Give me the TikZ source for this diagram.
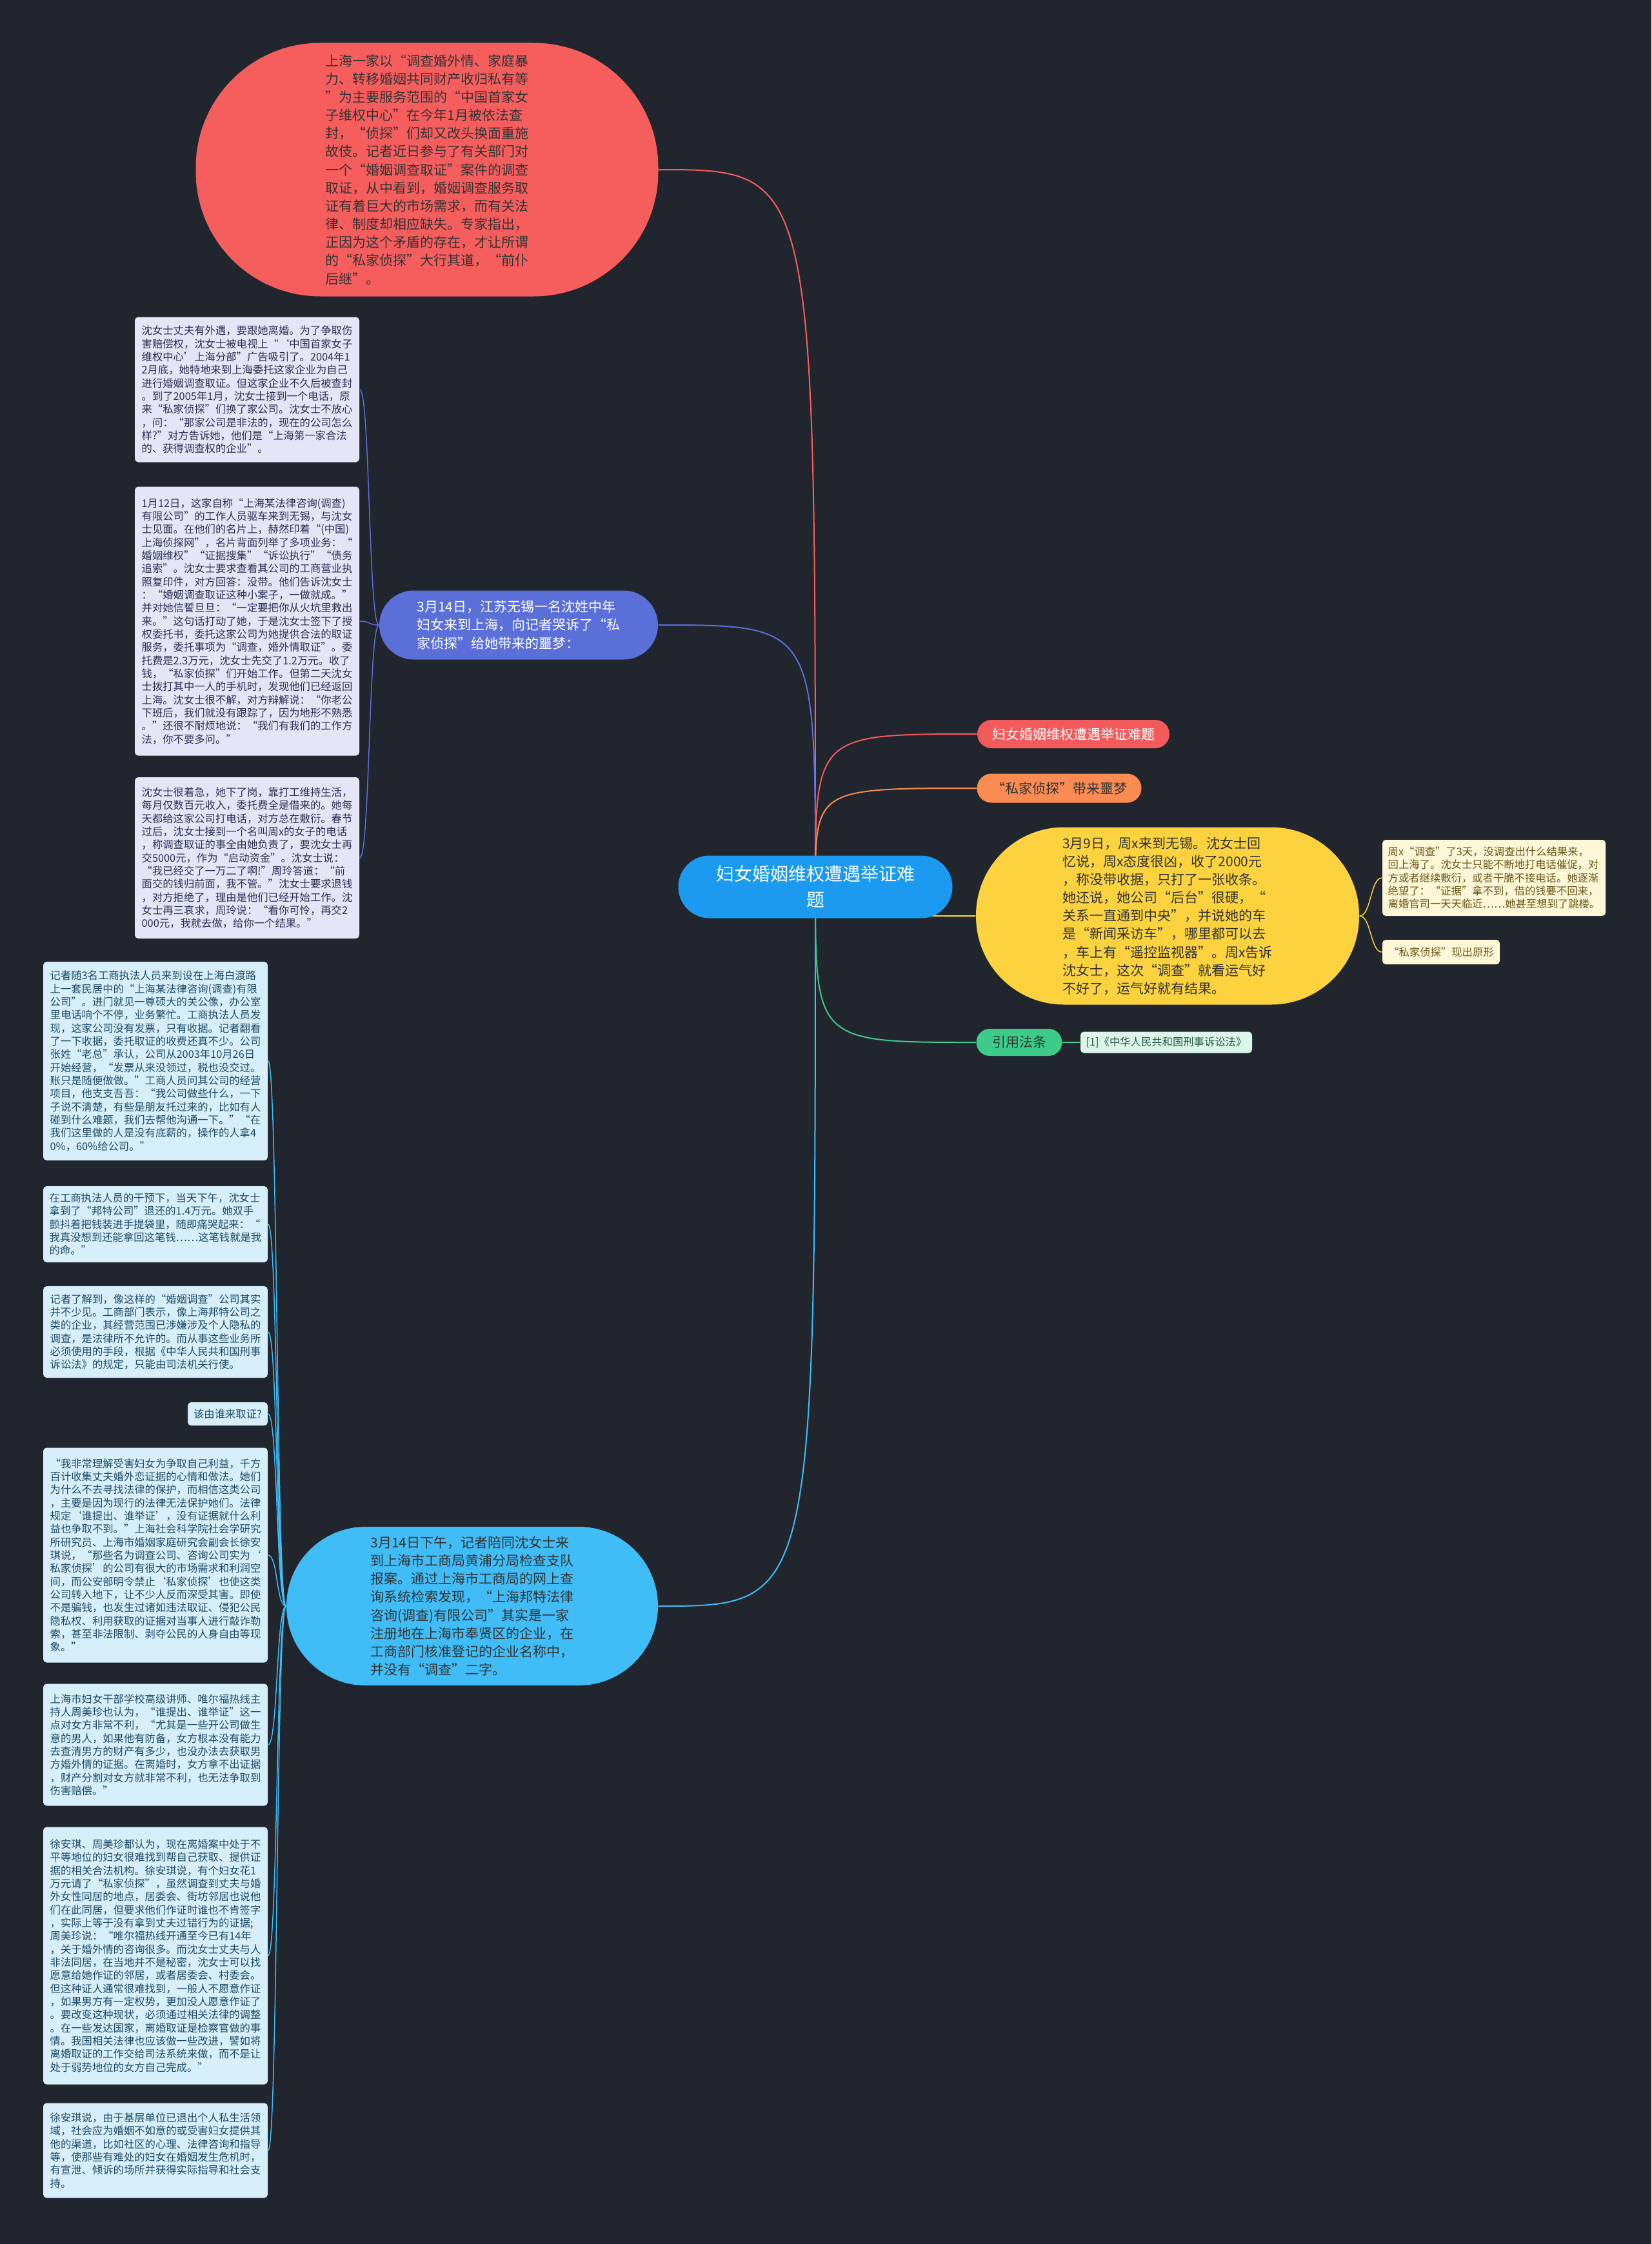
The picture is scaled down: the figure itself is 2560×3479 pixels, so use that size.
\documentclass[tikz,border=0pt]{standalone}
\usepackage{fontspec}
\setmainfont{Noto Sans CJK SC}
\usepackage{tikz}
\definecolor{bgdark}{HTML}{21252E}
\definecolor{rootblue}{HTML}{1C9AEF}
\definecolor{redfill}{HTML}{F65E5E}
\definecolor{pinkfill}{HTML}{F35A5C}
\definecolor{orangefill}{HTML}{FA8B52}
\definecolor{yellowfill}{HTML}{FCD33F}
\definecolor{greenfill}{HTML}{3CCB88}
\definecolor{perifill}{HTML}{5B6FD8}
\definecolor{skyfill}{HTML}{40BDF7}
\definecolor{lavbox}{HTML}{E4E6F7}
\definecolor{lavtext}{HTML}{2B2F55}
\definecolor{skybox}{HTML}{D6EFFB}
\definecolor{skytext}{HTML}{1E4A66}
\definecolor{creambox}{HTML}{FEF7D8}
\definecolor{creamtext}{HTML}{6A5616}
\definecolor{mintbox}{HTML}{DDF6EA}
\definecolor{minttext}{HTML}{245A40}
\definecolor{darktext}{HTML}{333333}
\pgfdeclarelayer{bg}
\pgfdeclarelayer{links}
\pgfsetlayers{bg,links,main}
\tikzset{
  big/.style={font=\fontsize{6.3}{8.45}\selectfont, align=left, inner sep=0pt},
  note/.style={font=\fontsize{4.9}{6.1}\selectfont, align=left, inner sep=0pt, rounded corners=1.6pt, minimum width=104.4pt},
  lav/.style={note, fill=lavbox, text=lavtext},
  sky/.style={note, fill=skybox, text=skytext},
  tag/.style={font=\fontsize{6.3}{8}\selectfont, inner sep=0pt},
  link/.style={line width=0.6pt},
  sublink/.style={line width=0.45pt},
}
\begin{document}
\begin{tikzpicture}[x=0.3pt,y=-0.3pt]
\useasboundingbox (0,0) rectangle (2560,3479);
\begin{pgfonlayer}{bg}
  \fill[bgdark] (0,0) rectangle (2560,3479);
\end{pgfonlayer}

\node[fill=rootblue, text=white, rounded corners=14.5pt, minimum width=127.5pt, minimum height=29.1pt,
  font=\fontsize{8.4}{12}\selectfont, align=center, inner sep=0pt] (root) at (1264,1375) {妇女婚姻维权遭遇举证难\\题};

\node[big, fill=redfill, text=darktext, rounded corners=58pt, minimum width=215.1pt, minimum height=117.9pt] (intro) at (662,263)
  {上海一家以“调查婚外情、家庭暴\\力、转移婚姻共同财产收归私有等\\”为主要服务范围的“中国首家女\\子维权中心”在今年1月被依法查\\封，“侦探”们却又改头换面重施\\故伎。记者近日参与了有关部门对\\一个“婚姻调查取证”案件的调查\\取证，从中看到，婚姻调查服务取\\证有着巨大的市场需求，而有关法\\律、制度却相应缺失。专家指出，\\正因为这个矛盾的存在，才让所谓\\的“私家侦探”大行其道，“前仆\\后继”。};

\node[big, fill=perifill, text=white, rounded corners=16pt, minimum width=129.6pt, minimum height=32.1pt] (mar14) at (804,969)
  {3月14日，江苏无锡一名沈姓中年\\妇女来到上海，向记者哭诉了“私\\家侦探”给她带来的噩梦：};

\node[lav, minimum height=67.5pt] (story1) at (383,604)
  {沈女士丈夫有外遇，要跟她离婚。为了争取伤\\害赔偿权，沈女士被电视上“‘中国首家女子\\维权中心’上海分部”广告吸引了。2004年1\\2月底，她特地来到上海委托这家企业为自己\\进行婚姻调查取证。但这家企业不久后被查封\\。到了2005年1月，沈女士接到一个电话，原\\来“私家侦探”们换了家公司。沈女士不放心\\，问：“那家公司是非法的，现在的公司怎么\\样?”对方告诉她，他们是“上海第一家合法\\的、获得调查权的企业”。};
\node[lav, minimum height=125.1pt] (story2) at (383,963)
  {1月12日，这家自称“上海某法律咨询(调查)\\有限公司”的工作人员驱车来到无锡，与沈女\\士见面。在他们的名片上，赫然印着“(中国)\\上海侦探网”，名片背面列举了多项业务：“\\婚姻维权”“证据搜集”“诉讼执行”“债务\\追索”。沈女士要求查看其公司的工商营业执\\照复印件，对方回答：没带。他们告诉沈女士\\：“婚姻调查取证这种小案子，一做就成。”\\并对她信誓旦旦：“一定要把你从火坑里救出\\来。”这句话打动了她，于是沈女士签下了授\\权委托书，委托这家公司为她提供合法的取证\\服务，委托事项为“调查，婚外情取证”。委\\托费是2.3万元，沈女士先交了1.2万元。收了\\钱，“私家侦探”们开始工作。但第二天沈女\\士拨打其中一人的手机时，发现他们已经返回\\上海。沈女士很不解，对方辩解说：“你老公\\下班后，我们就没有跟踪了，因为地形不熟悉\\。”还很不耐烦地说：“我们有我们的工作方\\法，你不要多问。”};
\node[lav, minimum height=75pt] (story3) at (383,1330)
  {沈女士很着急，她下了岗，靠打工维持生活，\\每月仅数百元收入，委托费全是借来的。她每\\天都给这家公司打电话，对方总在敷衍。春节\\过后，沈女士接到一个名叫周x的女子的电话\\，称调查取证的事全由她负责了，要沈女士再\\交5000元，作为“启动资金”。沈女士说：\\“我已经交了一万二了啊!”周玲答道：“前\\面交的钱归前面，我不管。”沈女士要求退钱\\，对方拒绝了，理由是他们已经开始工作。沈\\女士再三哀求，周玲说：“看你可怜，再交2\\000元，我就去做，给你一个结果。”};

\node[tag, fill=pinkfill, text=white, rounded corners=6.6pt, minimum width=89.4pt, minimum height=13.2pt] (title) at (1664,1138) {妇女婚姻维权遭遇举证难题};
\node[tag, fill=orangefill, text=darktext, rounded corners=6.7pt, minimum width=76.5pt, minimum height=13.5pt] (nightmare) at (1642,1222) {“私家侦探”带来噩梦};

\node[big, fill=yellowfill, text=darktext, rounded corners=41pt, minimum width=178.2pt, minimum height=82.5pt] (mar9) at (1810,1420)
  {3月9日，周x来到无锡。沈女士回\\忆说，周x态度很凶，收了2000元\\，称没带收据，只打了一张收条。\\她还说，她公司“后台”很硬，“\\关系一直通到中央”，并说她的车\\是“新闻采访车”，哪里都可以去\\，车上有“遥控监视器”。周x告诉\\沈女士，这次“调查”就看运气好\\不好了，运气好就有结果。};
\node[note, fill=creambox, text=creamtext, minimum width=103.8pt, minimum height=35.4pt] (despair) at (2316,1361)
  {周x“调查”了3天，没调查出什么结果来，\\回上海了。沈女士只能不断地打电话催促，对\\方或者继续敷衍，或者干脆不接电话。她逐渐\\绝望了：“证据”拿不到，借的钱要不回来，\\离婚官司一天天临近……她甚至想到了跳楼。};
\node[note, fill=creambox, text=creamtext, minimum width=54.6pt, minimum height=11.4pt] (exposed) at (2234,1476) {“私家侦探”现出原形};

\node[tag, fill=greenfill, text=darktext, rounded corners=6.3pt, minimum width=39.9pt, minimum height=12.6pt] (law) at (1580,1616) {引用法条};
\node[note, fill=mintbox, text=minttext, minimum width=79.8pt, minimum height=9.9pt] (lawref) at (1808,1616) {[1]《中华人民共和国刑事诉讼法》};

\node[big, fill=skyfill, text=darktext, rounded corners=36.9pt, minimum width=172.8pt, minimum height=73.8pt] (report) at (732,2490)
  {3月14日下午，记者陪同沈女士来\\到上海市工商局黄浦分局检查支队\\报案。通过上海市工商局的网上查\\询系统检索发现，“上海邦特法律\\咨询(调查)有限公司”其实是一家\\注册地在上海市奉贤区的企业，在\\工商部门核准登记的企业名称中，\\并没有“调查”二字。};

\node[sky, minimum height=92.4pt] (raid) at (241,1645)
  {记者随3名工商执法人员来到设在上海白渡路\\上一套民居中的“上海某法律咨询(调查)有限\\公司”。进门就见一尊硕大的关公像，办公室\\里电话响个不停，业务繁忙。工商执法人员发\\现，这家公司没有发票，只有收据。记者翻看\\了一下收据，委托取证的收费还真不少。公司\\张姓“老总”承认，公司从2003年10月26日\\开始经营，“发票从来没领过，税也没交过。\\账只是随便做做。”工商人员问其公司的经营\\项目，他支支吾吾：“我公司做些什么，一下\\子说不清楚，有些是朋友托过来的，比如有人\\碰到什么难题，我们去帮他沟通一下。”“在\\我们这里做的人是没有底薪的，操作的人拿4\\0\%，60\%给公司。”};
\node[sky, minimum height=35.4pt] (refund) at (241,1898)
  {在工商执法人员的干预下，当天下午，沈女士\\拿到了“邦特公司”退还的1.4万元。她双手\\颤抖着把钱装进手提袋里，随即痛哭起来：“\\我真没想到还能拿回这笔钱……这笔钱就是我\\的命。”};
\node[sky, minimum height=42.6pt] (illegal) at (241,2065)
  {记者了解到，像这样的“婚姻调查”公司其实\\并不少见。工商部门表示，像上海邦特公司之\\类的企业，其经营范围已涉嫌涉及个人隐私的\\调查，是法律所不允许的。而从事这些业务所\\必须使用的手段，根据《中华人民共和国刑事\\诉讼法》的规定，只能由司法机关行使。};
\node[sky, minimum width=37.2pt, minimum height=10.8pt] (who) at (353,2192) {该由谁来取证?};
\node[sky, minimum height=99.9pt] (xuview) at (241,2411)
  {“我非常理解受害妇女为争取自己利益，千方\\百计收集丈夫婚外恋证据的心情和做法。她们\\为什么不去寻找法律的保护，而相信这类公司\\，主要是因为现行的法律无法保护她们。法律\\规定‘谁提出、谁举证’，没有证据就什么利\\益也争取不到。”上海社会科学院社会学研究\\所研究员、上海市婚姻家庭研究会副会长徐安\\琪说，“那些名为调查公司、咨询公司实为‘\\私家侦探’的公司有很大的市场需求和利润空\\间，而公安部明令禁止‘私家侦探’也使这类\\公司转入地下，让不少人反而深受其害。即使\\不是骗钱，也发生过诸如违法取证、侵犯公民\\隐私权、利用获取的证据对当事人进行敲诈勒\\索，甚至非法限制、剥夺公民的人身自由等现\\象。”};
\node[sky, minimum height=56.7pt] (zhouview) at (241,2705)
  {上海市妇女干部学校高级讲师、唯尔福热线主\\持人周美珍也认为，“谁提出、谁举证”这一\\点对女方非常不利，“尤其是一些开公司做生\\意的男人，如果他有防备，女方根本没有能力\\去查清男方的财产有多少，也没办法去获取男\\方婚外情的证据。在离婚时，女方拿不出证据\\，财产分割对女方就非常不利，也无法争取到\\伤害赔偿。”};
\node[sky, minimum height=119.7pt] (reform) at (241,3032)
  {徐安琪、周美珍都认为，现在离婚案中处于不\\平等地位的妇女很难找到帮自己获取、提供证\\据的相关合法机构。徐安琪说，有个妇女花1\\万元请了“私家侦探”，虽然调查到丈夫与婚\\外女性同居的地点，居委会、街坊邻居也说他\\们在此同居，但要求他们作证时谁也不肯签字\\，实际上等于没有拿到丈夫过错行为的证据;\\周美珍说：“唯尔福热线开通至今已有14年\\，关于婚外情的咨询很多。而沈女士丈夫与人\\非法同居，在当地并不是秘密，沈女士可以找\\愿意给她作证的邻居，或者居委会、村委会。\\但这种证人通常很难找到，一般人不愿意作证\\，如果男方有一定权势，更加没人愿意作证了\\。要改变这种现状，必须通过相关法律的调整\\。在一些发达国家，离婚取证是检察官做的事\\情。我国相关法律也应该做一些改进，譬如将\\离婚取证的工作交给司法系统来做，而不是让\\处于弱势地位的女方自己完成。”};
\node[sky, minimum height=44.1pt] (support) at (241,3334)
  {徐安琪说，由于基层单位已退出个人私生活领\\域，社会应为婚姻不如意的或受害妇女提供其\\他的渠道，比如社区的心理、法律咨询和指导\\等，使那些有难处的妇女在婚姻发生危机时，\\有宣泄、倾诉的场所并获得实际指导和社会支\\持。};

\begin{pgfonlayer}{links}
  \draw[link, redfill] (root.center) .. controls (root |- intro.east) .. (intro.east);
  \draw[link, perifill] (root.center) .. controls (root |- mar14.east) .. (mar14.east);
  \draw[link, skyfill] (root.center) .. controls (root |- report.east) .. (report.east);
  \draw[link, pinkfill] (root.center) .. controls (root |- title.west) .. (title.west);
  \draw[link, orangefill] (root.center) .. controls (root |- nightmare.west) .. (nightmare.west);
  \draw[link, yellowfill] (root.center) .. controls (root |- mar9.west) .. (mar9.west);
  \draw[link, greenfill] (root.center) .. controls (root |- law.west) .. (law.west);
  \foreach \n in {story1,story2,story3}
    \draw[sublink, perifill] (mar14.west) .. controls +(-16,0) and +(16,0) .. (\n.east);
  \foreach \n in {raid,refund,illegal,who,xuview,zhouview,reform,support}
    \draw[sublink, skyfill] (report.west) .. controls +(-15,0) and +(15,0) .. (\n.east);
  \foreach \n in {despair,exposed}
    \draw[sublink, yellowfill] (mar9.east) .. controls +(18,0) and +(-18,0) .. (\n.west);
  \draw[sublink, greenfill] (law.east) -- (lawref.west);
\end{pgfonlayer}
\end{tikzpicture}
\end{document}
